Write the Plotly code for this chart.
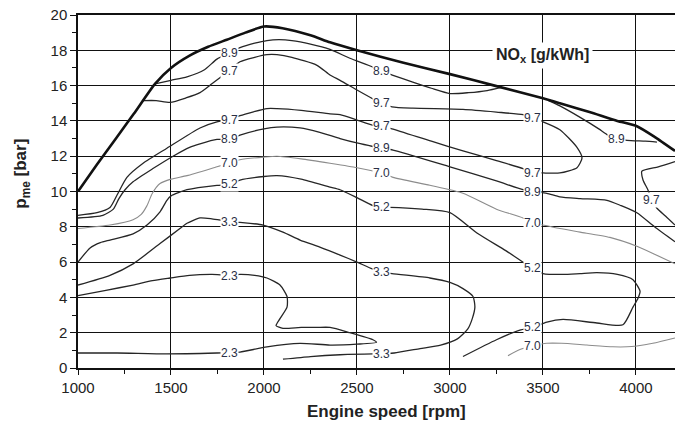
import plotly.graph_objects as go

# ---------------- data ----------------
full_load_x = [1000, 1100, 1200, 1300, 1414, 1500, 1600, 1700, 1800, 1900, 2000, 2100, 2250, 2355, 2500,
               2750, 3000, 3250, 3500, 3591, 3750, 3900, 4005, 4100, 4210]
full_load_y = [10.0, 11.5, 12.95, 14.4, 16.1, 17.0, 17.7, 18.2, 18.6, 19.0, 19.35, 19.25, 18.85, 18.45, 18.0,
               17.3, 16.65, 15.97, 15.28, 15.0, 14.5, 14.0, 13.7, 13.1, 12.3]

nox_89_x = [1414, 1500, 1586, 1680, 1747, 1812, 1871, 1950, 2016, 2080, 2150, 2250, 2355, 2462, 2586, 2634,
            2690, 2800, 2900, 3000, 3100, 3200, 3275, None,
            3530, 3591, 3700, 3800, 3849, 3898, 3952, 4050, 4113, None,
            1000, 1134, 1190, 1220, 1253, 1296, 1403, 1511, 1600, 1656, 1747, 1812, 1871, 2000, 2070, 2194,
            2300, 2409, 2500, 2586, 2634, 2694, 3000, 3250, 3393, 3444, 3521, 3591, 3700, 3844, 3920, 4005,
            4100, 4210]
nox_89_y = [16.1, 16.3, 16.5, 16.9, 17.5, 17.85, 18.15, 18.4, 18.55, 18.6, 18.55, 18.35, 18.05, 17.55, 17.05, 16.8,
            16.6, 16.2, 15.85, 15.55, 15.6, 15.72, 15.9, None,
            15.15, 14.85, 14.2, 13.55, 13.2, 13.0, 12.9, 12.85, 12.8, None,
            8.5, 8.65, 9.0, 9.6, 10.1, 10.55, 11.3, 12.0, 12.5, 12.7, 12.95, 12.95, 13.2, 13.55, 13.65, 13.6,
            13.35, 13.0, 12.75, 12.55, 12.45, 12.35, 11.4, 10.6, 10.1, 10.0, 9.9, 9.7, 9.6, 9.5, 9.2, 8.8,
            8.0, 7.15]

nox_97_x = [1350, 1420, 1495, 1580, 1656, 1720, 1763, 1812, 1871, 1950, 2016, 2070, 2150, 2285, 2355, 2409,
            2500, 2586, 2634, 2688, 2800, 3070, 3250, 3393, 3444, 3500, 3591, 3683, 3710, 3683, 3591, 3500,
            3444, 3393, 3250, 3070, 2900, 2688, 2634, 2586, 2500, 2409, 2355, 2200, 2070, 2016, 1871, 1812,
            1747, 1656, 1478, 1350, 1263, 1210, 1172, 1102, 1000, None,
            4210, 4120, 4032, 4038, 4064, 4086, 4113, 4160, 4210]
nox_97_y = [15.15, 15.15, 15.05, 15.3, 15.6, 16.1, 16.45, 16.85, 17.35, 17.6, 17.75, 17.75, 17.6, 17.15, 16.6, 16.3,
            15.75, 15.25, 15.0, 14.8, 14.72, 14.65, 14.5, 14.35, 14.15, 13.95, 13.5, 12.5, 11.9, 11.35, 11.05, 11.05,
            11.07, 11.3, 11.75, 12.3, 12.85, 13.55, 13.7, 13.75, 14.05, 14.35, 14.4, 14.6, 14.7, 14.7, 14.3, 14.05,
            13.95, 13.6, 12.45, 11.6, 10.8, 9.8, 9.1, 8.8, 8.65, None,
            11.7, 11.4, 11.15, 10.65, 10.1, 9.5, 9.05, 8.6, 8.1]

nox_70_x = [1000, 1172, 1296, 1340, 1371, 1400, 1441, 1500, 1586, 1747, 1812, 1871, 2000, 2070, 2200, 2355,
            2500, 2634, 2694, 2892, 3070, 3250, 3393, 3444, 3500, 3591, 3700, 3860, 4005, 4100, 4210, None,
            3312, 3376, 3444, 3521, 3600, 3736, 3876, 3952, 4005, 4091, 4210]
nox_70_y = [7.9, 8.1, 8.4, 8.7, 9.2, 9.9, 10.45, 10.7, 10.9, 11.4, 11.6, 11.8, 11.95, 12.0, 11.85, 11.6,
            11.35, 11.05, 10.8, 10.35, 9.9, 9.0, 8.5, 8.2, 8.1, 7.9, 7.7, 7.4, 6.9, 6.45, 5.9, None,
            0.7, 1.05, 1.25, 1.4, 1.4, 1.3, 1.2, 1.2, 1.25, 1.4, 1.7]

nox_52_x = [1000, 1065, 1120, 1172, 1296, 1371, 1441, 1478, 1500, 1586, 1747, 1812, 1871, 2000, 2070, 2200,
            2355, 2409, 2500, 2586, 2634, 2677, 2850, 3000, 3145, 3300, 3393, 3444, 3500, 3608, 3700, 3790,
            3900, 3984, 4022, 4011, 3984, 3930, 3790, 3608, 3521, 3444, 3376, 3250, 3070]
nox_52_y = [6.0, 6.8, 7.1, 7.25, 7.6, 8.1, 8.85, 9.5, 9.75, 10.1, 10.35, 10.4, 10.65, 10.85, 10.9, 10.7,
            10.25, 10.1, 9.65, 9.2, 9.1, 9.1, 9.0, 8.8, 7.65, 6.65, 6.0, 5.65, 5.35, 5.3, 5.35, 5.4,
            5.3, 5.0, 4.35, 3.95, 3.45, 2.45, 2.55, 2.75, 2.6, 2.3, 2.15, 1.6, 0.65]

nox_33_x = [1000, 1172, 1296, 1441, 1548, 1586, 1656, 1720, 1812, 1871, 1995, 2102, 2194, 2300, 2409, 2500,
            2586, 2634, 2688, 2892, 3000, 3070, 3124, 3134, 3120, 3095, 3040, 2950, 2839, 2700, 2634, 2586,
            2409, 2250, 2102]
nox_33_y = [4.7, 5.25, 5.9, 7.05, 7.9, 8.2, 8.5, 8.45, 8.3, 8.25, 8.1, 7.7, 7.25, 6.85, 6.4, 6.0,
            5.6, 5.45, 5.35, 5.1, 4.85, 4.5, 4.05, 3.45, 2.8, 2.2, 1.65, 1.3, 1.1, 0.85, 0.8, 0.8,
            0.75, 0.65, 0.5]

nox_23_x = [1000, 1150, 1296, 1400, 1495, 1600, 1720, 1812, 1871, 1950, 2016, 2086, 2124, 2124, 2086, 2065,
            2102, 2200, 2285, 2355, 2462, 2586, 2605, 2500, 2355, 2194, 2016, 1871, 1812, 1747, 1478, 1210,
            1000]
nox_23_y = [4.1, 4.4, 4.7, 4.95, 5.1, 5.25, 5.3, 5.25, 5.3, 5.25, 5.1, 4.7, 4.05, 3.45, 2.8, 2.4,
            2.25, 2.3, 2.3, 2.3, 2.0, 1.6, 1.45, 1.35, 1.3, 1.4, 1.2, 0.9, 0.87, 0.85, 0.8, 0.85,
            0.85]

label_x = [1812, 1812, 1812, 1812, 1812, 1812, 1812, 1812, 1812,
           2633, 2633, 2633, 2633, 2633, 2633, 2633, 2633,
           3444, 3444, 3444, 3444, 3444, 3444, 3444,
           3898, 4086]
label_y = [17.85, 16.85, 14.05, 12.95, 11.6, 10.4, 8.3, 5.2, 0.87,
           16.8, 15.0, 13.7, 12.45, 11.05, 9.1, 5.45, 0.8,
           14.15, 11.07, 10.0, 8.2, 5.65, 2.3, 1.25,
           13.0, 9.5]
label_text = ["8.9", "9.7", "9.7", "8.9", "7.0", "5.2", "3.3", "2.3", "2.3",
              "8.9", "9.7", "9.7", "8.9", "7.0", "5.2", "3.3", "3.3",
              "9.7", "9.7", "8.9", "7.0", "5.2", "5.2", "7.0",
              "8.9", "9.7"]

x_ticks = [1000, 1500, 2000, 2500, 3000, 3500, 4000]
y_ticks = [0, 2, 4, 6, 8, 10, 12, 14, 16, 18, 20]

# ---------------- figure ----------------
FONT = "Arial, Liberation Sans, sans-serif"
fig = go.Figure()

iso = [
    (nox_89_x, nox_89_y, "#262626", 1.3),
    (nox_97_x, nox_97_y, "#262626", 1.3),
    (nox_70_x, nox_70_y, "#8c8c8c", 1.1),
    (nox_52_x, nox_52_y, "#262626", 1.3),
    (nox_33_x, nox_33_y, "#262626", 1.3),
    (nox_23_x, nox_23_y, "#262626", 1.3),
]
for xs, ys, col, w in iso:
    fig.add_trace(go.Scatter(x=xs, y=ys, mode="lines", line=dict(color=col, width=w, shape="spline", smoothing=0.6),
                             connectgaps=False, showlegend=False, hoverinfo="skip"))

fig.add_trace(go.Scatter(x=full_load_x, y=full_load_y, mode="lines",
                         line=dict(color="#111111", width=2.6, shape="spline", smoothing=0.6),
                         showlegend=False, hoverinfo="skip"))

for lx, ly, lt in zip(label_x, label_y, label_text):
    fig.add_annotation(x=lx, y=ly, xref="x", yref="y", text=lt, showarrow=False,
                       xanchor="center", yanchor="middle",
                       font=dict(family=FONT, size=12, color="#2a2f45"),
                       bgcolor="white", borderpad=0)

fig.add_annotation(x=3495, y=17.73, xref="x", yref="y", text="<b>NO<sub>x</sub> [g/kWh]</b>",
                   showarrow=False, xanchor="center", yanchor="middle",
                   font=dict(family=FONT, size=16, color="#222222"),
                   bgcolor="white", borderpad=3)

fig.add_annotation(x=0.516, y=-0.122, xref="paper", yref="paper", text="<b>Engine speed [rpm]</b>",
                   showarrow=False, xanchor="center", yanchor="middle",
                   font=dict(family=FONT, size=17, color="#222222"))
fig.add_annotation(x=-0.094, y=0.55, xref="paper", yref="paper", text="<b>p<sub>me</sub> [bar]</b>",
                   textangle=-90, showarrow=False, xanchor="center", yanchor="middle",
                   font=dict(family=FONT, size=17, color="#222222"))

fig.update_xaxes(range=[1000, 4210], tickvals=x_ticks, ticktext=[str(v) for v in x_ticks],
                 showgrid=True, gridcolor="#111111", gridwidth=1.2,
                 showline=True, linecolor="#111111", linewidth=1.5, mirror=True,
                 ticks="outside", ticklen=5, tickcolor="#111111",
                 minor=dict(dtick=250, tick0=1000, ticks="outside", ticklen=4, tickcolor="#111111", showgrid=False),
                 tickfont=dict(family=FONT, size=15, color="#222222"), zeroline=False)
fig.update_yaxes(range=[0, 20], tickvals=y_ticks, ticktext=[str(v) for v in y_ticks],
                 showgrid=True, gridcolor="#111111", gridwidth=1.2,
                 showline=True, linecolor="#111111", linewidth=1.5,
                 ticks="outside", ticklen=6, tickcolor="#111111",
                 minor=dict(dtick=1, tick0=0, ticks="outside", ticklen=4, tickcolor="#111111", showgrid=False),
                 tickfont=dict(family=FONT, size=15, color="#222222"), zeroline=False)

fig.update_layout(width=675, height=426, margin=dict(l=78, r=0, t=15, b=58),
                  paper_bgcolor="white", plot_bgcolor="white", showlegend=False)

fig.write_html("out.html")
